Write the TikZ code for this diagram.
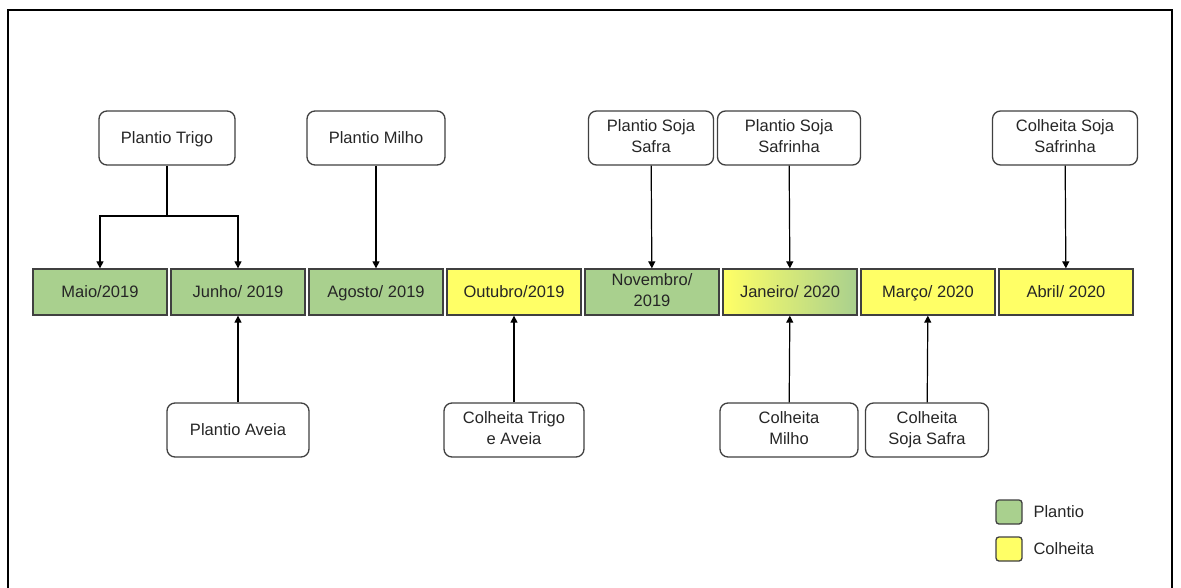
\documentclass[tikz,border=0pt]{standalone}
\usepackage{fontspec}
\setmainfont{Liberation Sans}
\usetikzlibrary{arrows.meta}
\definecolor{plgreen}{RGB}{169,208,142}
\definecolor{clyellow}{RGB}{255,255,102}
\newcommand{\mstrut}{\rule[-3.2pt]{0pt}{18.2pt}}

\begin{document}
\begin{tikzpicture}[x=1pt, y=-1pt, every node/.style={font=\fontsize{16.5}{21}\selectfont, text=black!85}, >={Triangle[length=7pt,width=7pt]}, mes/.style={draw=black!75, line width=1.3pt, minimum width=134pt, minimum height=46pt, inner sep=1pt, align=center, execute at begin node=\mstrut, execute at end node=\mstrut}, ev/.style={draw=black!75, line width=1.3pt, rounded corners=8pt, minimum height=54pt, inner sep=2pt, align=center, fill=white, execute at begin node=\mstrut, execute at end node=\mstrut}, leg/.style={draw=black!75, line width=1.3pt, rounded corners=3pt, minimum width=26pt, minimum height=24pt}]
	\useasboundingbox (0,0) rectangle (1181,587);
	\draw[line width=1.5pt] (8,590) -- (8,10) -- (1172,10) -- (1172,590);
	% linha do tempo
	\node[mes, fill=plgreen] (maio) at (100,292) {Maio/2019};
	\node[mes, fill=plgreen] (junho) at (238,292) {Junho/ 2019};
	\node[mes, fill=plgreen] (agosto) at (376,292) {Agosto/ 2019};
	\node[mes, fill=clyellow] (outubro) at (514,292) {Outubro/2019};
	\node[mes, fill=plgreen] (novembro) at (652,292) {Novembro/\\2019};
	\node[mes, left color=clyellow, right color=plgreen] (janeiro) at (790,292) {Janeiro/ 2020};
	\node[mes, fill=clyellow] (marco) at (928,292) {Março/ 2020};
	\node[mes, fill=clyellow] (abril) at (1066,292) {Abril/ 2020};
	% eventos acima
	\node[ev, minimum width=136pt] (pTrigo) at (167,138) {Plantio Trigo};
	\node[ev, minimum width=138pt] (pMilho) at (376,138) {Plantio Milho};
	\node[ev, minimum width=125pt] (pSafra) at (651,138) {Plantio Soja\\Safra};
	\node[ev, minimum width=143pt] (pSafrinha) at (789,138) {Plantio Soja\\Safrinha};
	\node[ev, minimum width=145pt] (cSafrinha) at (1065,138) {Colheita Soja\\Safrinha};
	% eventos abaixo
	\node[ev, minimum width=142pt] (pAveia) at (238,430) {Plantio Aveia};
	\node[ev, minimum width=140pt] (cTrigo) at (514,430) {Colheita Trigo\\e Aveia};
	\node[ev, minimum width=138pt] (cMilho) at (789,430) {Colheita\\Milho};
	\node[ev, minimum width=123pt] (cSafra) at (927,430) {Colheita\\Soja Safra};
	% legenda
	\node[leg, fill=plgreen] (lgP) at (1009,512) {};
	\node[leg, fill=clyellow] (lgC) at (1009,549) {};
	\node[anchor=west] (tP) at (1030,512) {Plantio};
	\node[anchor=west] (tC) at (1030,549) {Colheita};
	% setas
	\coordinate (split) at (167,216);
	\draw[line width=1.2pt] (pTrigo) -- (split);
	\draw[->, line width=1.2pt] (split) -| (maio);
	\draw[->, line width=1.2pt] (split) -| (junho);
	\foreach \a/\b in {pMilho/agosto, pSafra/novembro, pSafrinha/janeiro, cSafrinha/abril, pAveia/junho, cTrigo/outubro, cMilho/janeiro, cSafra/marco} {\draw[->, line width=1.2pt] (\a) -- (\b);}
\end{tikzpicture}
\end{document}
